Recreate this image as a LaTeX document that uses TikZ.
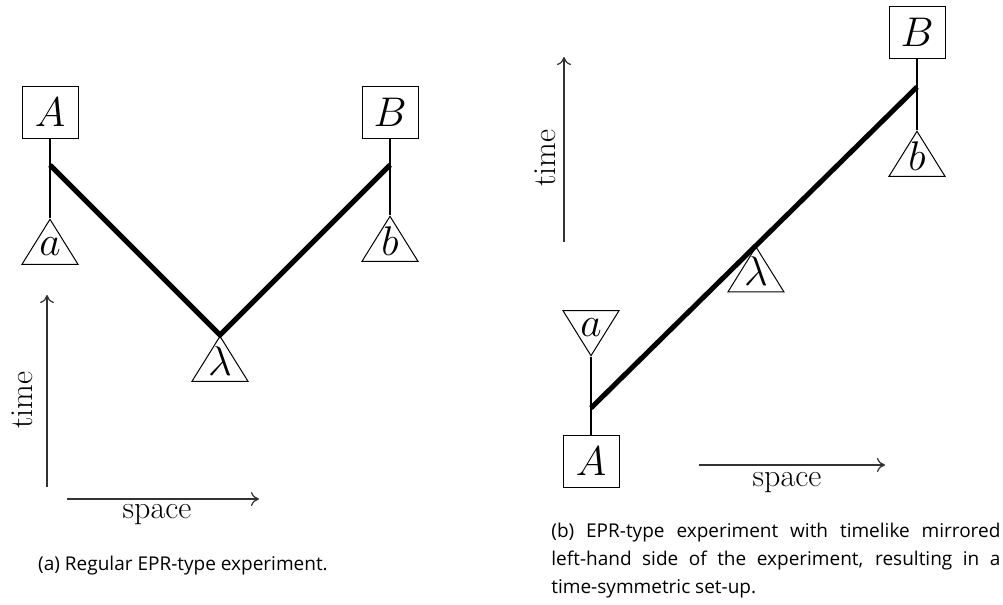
\documentclass[tikz,border=0pt]{standalone}
\usepackage{fontspec}
\setsansfont{Open Sans}
\usetikzlibrary{calc,arrows,arrows.meta,positioning,shapes.geometric}

\begin{document}
\begin{tikzpicture}[x=0.5pt,y=-0.5pt]

\tikzset{boxnode/.style={draw,line width=0.5pt,inner sep=0pt,minimum width=28pt,minimum height=26pt,font=\huge},
trinode/.style={draw,line width=0.5pt,shape=isosceles triangle,isosceles triangle stretches,inner sep=0pt,minimum width=28pt,minimum height=22.5pt},
letternode/.style={font=\huge,inner sep=0pt},
axisnode/.style={font=\fontsize{16}{19}\selectfont,inner sep=0pt},
capnode/.style={font=\sffamily\fontsize{9.5}{13.8}\selectfont,inner sep=0pt},
thickline/.style={line width=2.5pt,line join=miter},
thinline/.style={line width=0.6pt},
axisline/.style={line width=0.6pt,draw=black!80,-{To[length=4pt,width=7pt]}}}

\useasboundingbox (0,0) rectangle (1003,605);

% (a) regular EPR set-up
\node[boxnode] (A1) at (50,112) {$A$};
\node[boxnode] (B1) at (390,112) {$B$};
\node[trinode,shape border rotate=90,anchor=apex] (ta1) at (50,218) {};
\node[trinode,shape border rotate=90,anchor=apex] (tb1) at (390,215) {};
\node[trinode,shape border rotate=90,anchor=apex] (tl1) at (220,335) {};
\node[letternode] (la1) at ($(ta1.apex)!0.6!(ta1.lower side)$) {$a$};
\node[letternode] (lb1) at ($(tb1.apex)!0.55!(tb1.lower side)$) {$b$};
\node[letternode] (ll1) at ($(tl1.apex)!0.55!(tl1.lower side)$) {$\lambda$};
\coordinate (jA1) at (50,165);
\coordinate (jB1) at (390,165);

\draw[thinline] (A1) -- (ta1.apex);
\draw[thinline] (B1) -- (tb1.apex);
\draw[thickline] (jA1) -- (tl1.apex) -- (jB1);

% axes
\coordinate (t0a) at (47,487);
\coordinate (t1a) at (47,295);
\coordinate (s0a) at (67,499);
\coordinate (s1a) at (259,499);
\draw[axisline] (t0a) -- (t1a);
\draw[axisline] (s0a) -- (s1a);
\node[axisnode,rotate=90] (timeA) at (22,400) {time};
\node[axisnode] (spaceA) at (157,515) {space};

% (b) mirrored left-hand side
\node[boxnode] (A2) at (591,461) {$A$};
\node[boxnode] (B2) at (917,32) {$B$};
\node[trinode,shape border rotate=270,anchor=apex] (ta2) at (591,357) {};
\node[trinode,shape border rotate=90,anchor=apex] (tb2) at (917,130) {};
\coordinate (jA2) at (591,408);
\coordinate (jB2) at (917,87);
\node[trinode,shape border rotate=90,anchor=apex] (tl2) at ($(jA2)!0.506!(jB2)$) {};
\node[letternode] (la2) at ($(ta2.apex)!0.62!(ta2.lower side)$) {$a$};
\node[letternode] (lb2) at ($(tb2.apex)!0.55!(tb2.lower side)$) {$b$};
\node[letternode] (ll2) at ($(tl2.apex)!0.55!(tl2.lower side)$) {$\lambda$};

\draw[thinline] (A2) -- (ta2.apex);
\draw[thinline] (B2) -- (tb2.apex);
\draw[thickline] (jA2) -- (jB2);

% axes
\coordinate (t0b) at (564,242);
\coordinate (t1b) at (564,57);
\coordinate (s0b) at (699,465);
\coordinate (s1b) at (885,465);
\draw[axisline] (t0b) -- (t1b);
\draw[axisline] (s0b) -- (s1b);
\node[axisnode,rotate=90] (timeB) at (545,158) {time};
\node[axisnode] (spaceB) at (787,483) {space};

% captions
\node[capnode,anchor=base] (capA) at (183,570) {(a) Regular EPR-type experiment.};
\node[capnode,anchor=north west,text width=224.5pt,align=justify] (capB) at (551,523)
  {(b) EPR-type experiment with timelike mirrored\linebreak left-hand side of the experiment, resulting in a\linebreak time-symmetric set-up.};

\end{tikzpicture}
\end{document}
